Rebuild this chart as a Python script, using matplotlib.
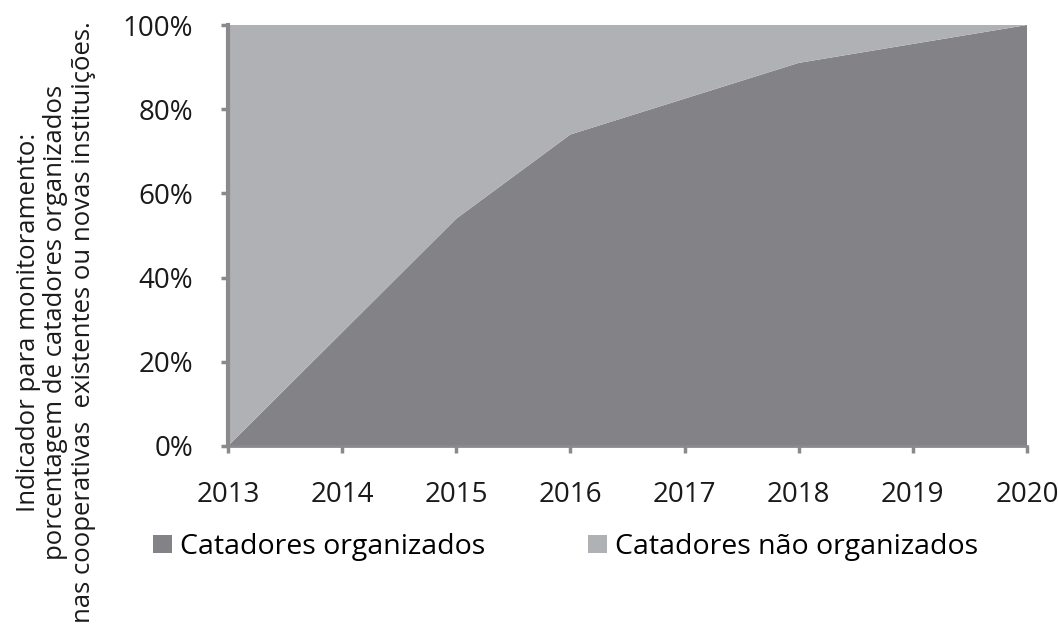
import matplotlib
matplotlib.use("Agg")
import matplotlib.pyplot as plt
from matplotlib.patches import Patch

years = [2013, 2014, 2015, 2016, 2017, 2018, 2019, 2020]
organizados = [0, 27, 54, 74, 82.5, 91, 95.5, 100]
nao_organizados = [100 - v for v in organizados]
y_ticks = [0, 20, 40, 60, 80, 100]
series_labels = ["Catadores organizados", "Catadores não organizados"]
ylabel = ("Indicador para monitoramento:\n"
          "porcentagem de catadores organizados\n"
          "nas cooperativas  existentes ou novas instituições.")

dark = "#838387"
light = "#b0b1b4"
spine = "#8a8a8c"

plt.rcParams['font.family'] = ['Open Sans', 'DejaVu Sans']

fig = plt.figure(figsize=(10.58, 6.36), dpi=100)
ax = fig.add_axes([228/1058, 1-446/636, (1027-228)/1058, (446-25)/636])
ax.stackplot(years, organizados, nao_organizados, colors=[dark, light], linewidth=0)
ax.set_xlim(years[0], years[-1])
ax.set_ylim(0, 100)
ax.set_xticks(years)
ax.set_xticklabels([str(y) for y in years])
ax.set_yticks(y_ticks)
ax.set_yticklabels([f"{v}%" for v in y_ticks])
for s in ["top", "right"]:
    ax.spines[s].set_visible(False)
ax.spines["left"].set_color(spine)
ax.spines["left"].set_linewidth(3)
ax.spines["bottom"].set_color(spine)
ax.spines["bottom"].set_linewidth(2)
ax.tick_params(axis="both", colors=spine, labelcolor="#1a1a1a", labelsize=20,
               length=5, width=2.5)
ax.tick_params(axis="x", pad=20)
ax.tick_params(axis="y", pad=20)

fig.text(56/1058, 1-322/636, ylabel, rotation=90, ha="center", va="center",
         multialignment="center", fontsize=18.5, linespacing=1.12, color="#1a1a1a")

handles = [Patch(facecolor=dark, edgecolor="none"), Patch(facecolor=light, edgecolor="none")]
fig.legend(handles, series_labels, loc="center left", bbox_to_anchor=(153/1058, 1-547/636),
           ncol=2, frameon=False, fontsize=20.5, handlelength=0.68, handleheight=0.6,
           handletextpad=0.28, columnspacing=3.6, borderaxespad=0, borderpad=0)

fig.savefig("out.png", dpi=100)
